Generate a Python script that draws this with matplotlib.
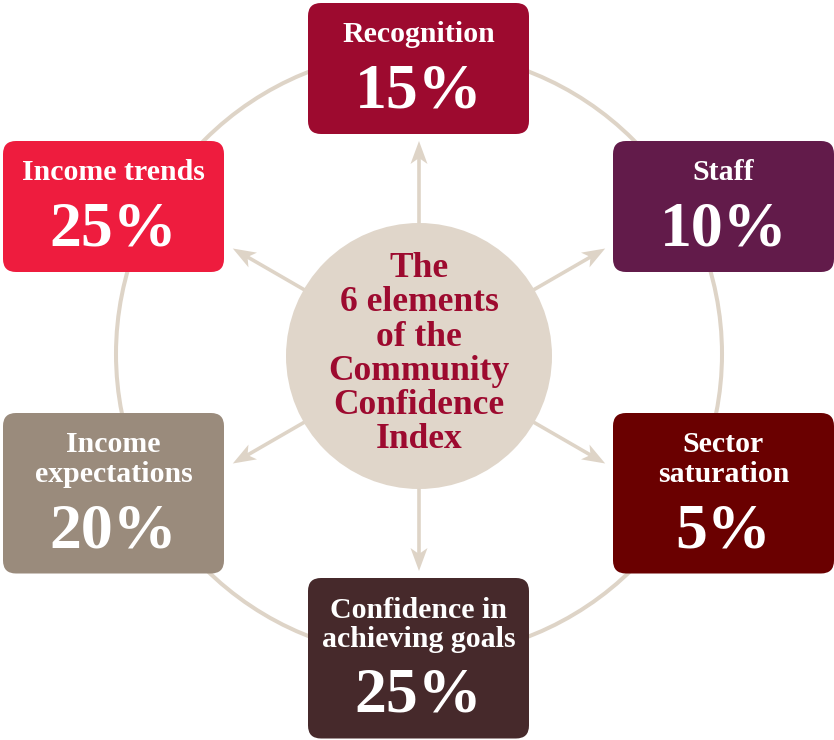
import numpy as np
import matplotlib
matplotlib.use("Agg")
import matplotlib.pyplot as plt
from matplotlib.patches import FancyBboxPatch, Circle, Polygon

# --- data -------------------------------------------------------------
labels = ["Recognition", "Staff", "Sector\nsaturation",
          "Confidence in\nachieving goals", "Income\nexpectations", "Income trends"]
weights = [15, 10, 5, 25, 20, 25]
colors = ["#9D0A2F", "#621B4A", "#6A0000", "#46292B", "#9A8B7C", "#EE1C3E"]
center_title = ["The", "6 elements", "of the", "Community", "Confidence", "Index"]

# --- layout (pixel space, y downwards) --------------------------------
box_left = [308, 613, 613, 308, 3, 3]
box_top = [3, 141, 413, 578, 413, 141]
box_w = 221
arrow_angles = [90, 30, -30, -90, -150, 150]  # degrees, math convention

cx, cy = 419, 356
ring_r = 303
hub_r = 133
arrow_tip_r = 215

ring_col = "#DED4C7"
hub_col = "#E0D6CA"
title_col = "#9D0A2F"
FONT = "Liberation Serif"

fig = plt.figure(figsize=(8.34, 7.40), dpi=100)
ax = fig.add_axes([0, 0, 1, 1])
ax.set_xlim(0, 834)
ax.set_ylim(740, 0)
ax.set_aspect("equal")
ax.axis("off")

# outer ring
ax.add_patch(Circle((cx, cy - 2), ring_r, fill=False, ec=ring_col, lw=2.9, zorder=1))

# arrows from the hub towards each element
for a in arrow_angles:
    t = np.deg2rad(a)
    u = np.array([np.cos(t), -np.sin(t)])
    n = np.array([-u[1], u[0]])
    c = np.array([cx, cy])
    tip = c + arrow_tip_r * u
    L, W, notch = 23, 8.5, 6
    ax.plot(*zip(c + (hub_r - 10) * u, tip - (L - notch - 1) * u),
            color=ring_col, lw=2.6, solid_capstyle="butt", zorder=2)
    head = [tip, tip - L * u + W * n, tip - (L - notch) * u, tip - L * u - W * n]
    ax.add_patch(Polygon(head, closed=True, fc=ring_col, ec="none", zorder=2))

# central hub
ax.add_patch(Circle((cx, cy), hub_r, fc=hub_col, ec="none", zorder=3))
base0 = 277
for i, line in enumerate(center_title):
    ax.text(cx, base0 + 34.3 * i, line, ha="center", va="baseline",
            fontsize=25.5, fontweight="bold", family=FONT, color=title_col, zorder=4)

# element boxes
for lab, w, col, x0, y0 in zip(labels, weights, colors, box_left, box_top):
    lines = lab.split("\n")
    h = 131 + 29.5 * (len(lines) - 1)
    ax.add_patch(FancyBboxPatch((x0, y0), box_w, h,
                                boxstyle="round,pad=0,rounding_size=13",
                                fc=col, ec="none", zorder=3))
    xm = x0 + box_w / 2
    for i, line in enumerate(lines):
        ax.text(xm, y0 + 39.5 + 29.5 * i, line, ha="center", va="baseline",
                fontsize=21.5, fontweight="bold", family=FONT, color="white", zorder=4)
    last = y0 + 39.5 + 29.5 * (len(lines) - 1)
    ax.text(xm, last + 65, f"{w}%", ha="center", va="baseline",
            fontsize=46, fontweight="bold", family=FONT, color="white", zorder=4)

fig.savefig("out.png", dpi=100, facecolor="white")
